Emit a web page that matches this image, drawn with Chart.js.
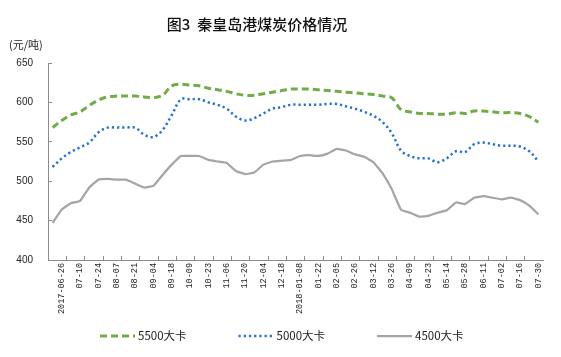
<!DOCTYPE html>
<html>
<head>
<meta charset="utf-8">
<script src="https://cdn.jsdelivr.net/npm/chart.js@4/dist/chart.umd.min.js"></script>
<style>
html,body{margin:0;padding:0;background:#fff;}
#wrap{width:561px;height:357px;}
</style>
</head>
<body>
<div id="wrap"><canvas id="c" width="561" height="357"></canvas></div>
<script>
const titleText = "图3  秦皇岛港煤炭价格情况";
const unitText = "(元/吨)";
const categories = [
  "2017-06-19","2017-06-26","07-03","07-10","07-17","07-24","07-31","08-07","08-14","08-21",
  "08-28","09-04","09-11","09-18","09-25","10-09","10-16","10-23","10-30","11-06",
  "11-13","11-20","11-27","12-04","12-11","12-18","12-25","2018-01-08","01-15","01-22",
  "01-29","02-05","02-12","02-26","03-05","03-12","03-19","03-26","04-02","04-09",
  "04-16","04-23","05-07","05-14","05-21","05-28","06-04","06-11","06-25","07-02",
  "07-09","07-16","07-23","07-30"
];
const seriesNames = ["5500大卡","5000大卡","4500大卡"];
const kcal5500 = [568,577,584,588,596,603,607,608,608,608,
  607,606,609,621,623,622,621,618,616,614,
  611,609,609,611,613,615,617,617,617,616,
  615,614,613,612,611,610,608,606,591,588,
  586,586,585,585,587,586,589,589,588,587,
  587,586,582,575];
const kcal5000 = [518,529,537,543,549,562,568,568,568,568,
  559,556,565,584,604,604,604,600,597,592,
  582,577,580,586,592,594,597,597,597,597,
  598,598,595,592,588,583,575,561,539,532,
  529,529,524,529,538,537,547,549,547,545,
  545,544,538,525];
const kcal4500 = [447,464,472,475,492,502,503,502,502,497,
  492,494,508,521,532,532,532,527,525,523,
  513,509,511,521,525,526,527,532,533,532,
  535,541,539,534,531,524,510,490,464,460,
  455,456,460,463,473,471,479,481,479,477,
  479,476,469,458];
const yTicks = [400,450,500,550,600,650];

const axisColor = '#8c8c8c';
const textColor = '#222';

const textPlugin = {
  id: 'texts',
  afterDraw(chart) {
    const ctx = chart.ctx;
    ctx.save();
    ctx.fillStyle = '#111';
    ctx.textBaseline = 'middle';
    ctx.textAlign = 'center';
    ctx.font = '500 15px "Noto Sans CJK SC"';
    ctx.fillText(titleText, 257, 24);
    ctx.textAlign = 'left';
    ctx.font = '11px "Noto Sans CJK SC"';
    ctx.fillStyle = textColor;
    ctx.fillText(unitText, 9, 45);

    // legend built from the datasets
    const legendY = 336, lineW = 35, textGap = 3, itemGap = 52;
    let x = 100;
    ctx.font = '11.5px "Noto Sans CJK SC"';
    chart.data.datasets.forEach(ds => {
      ctx.save();
      ctx.strokeStyle = ds.borderColor;
      ctx.lineWidth = ds.borderWidth;
      ctx.setLineDash(ds.borderDash || []);
      ctx.beginPath();
      ctx.moveTo(x, legendY);
      ctx.lineTo(x + lineW, legendY);
      ctx.stroke();
      ctx.restore();
      ctx.fillStyle = textColor;
      ctx.textAlign = 'left';
      ctx.textBaseline = 'middle';
      const tx = x + lineW + textGap;
      ctx.fillText(ds.label, tx, legendY);
      x = tx + ctx.measureText(ds.label).width + itemGap;
    });
    ctx.restore();
  }
};

new Chart(document.getElementById('c'), {
  type: 'line',
  data: {
    labels: categories,
    datasets: [
      {label: seriesNames[0], data: kcal5500, borderColor: '#70AD47', backgroundColor: '#70AD47',
       borderWidth: 3, borderDash: [7,4], pointRadius: 0, tension: 0.35, fill: false},
      {label: seriesNames[1], data: kcal5000, borderColor: '#2270D2', backgroundColor: '#2270D2',
       borderWidth: 2.5, borderDash: [2.2,3], pointRadius: 0, tension: 0.35, fill: false},
      {label: seriesNames[2], data: kcal4500, borderColor: '#A5A5A5', backgroundColor: '#A5A5A5',
       borderWidth: 2.25, pointRadius: 0, tension: 0.1, fill: false}
    ]
  },
  options: {
    responsive: false,
    animation: false,
    devicePixelRatio: 1,
    layout: {padding: {top: 63, left: 8, right: 18, bottom: 37}},
    plugins: {
      title: {display: false},
      tooltip: {enabled: false},
      legend: {display: false}
    },
    scales: {
      x: {
        type: 'category',
        offset: true,
        grid: {
          display: true,
          offset: true,
          drawOnChartArea: false,
          drawTicks: true,
          tickLength: -4,
          color: (c) => (c.index % 2 === 0 ? axisColor : 'rgba(0,0,0,0)'),
          lineWidth: 1
        },
        border: {display: true, color: axisColor, width: 1},
        ticks: {
          autoSkip: false,
          minRotation: 90,
          maxRotation: 90,
          padding: 7,
          color: textColor,
          font: {family: '"Liberation Mono"', size: 8.5},
          callback: function(v, i) { return i % 2 === 1 ? this.getLabelForValue(v) : ''; }
        },
        afterFit: (s) => { s.height = 60; }
      },
      y: {
        min: 400,
        max: 650,
        afterBuildTicks: (s) => { s.ticks = yTicks.map(v => ({value: v})); },
        grid: {
          display: true,
          drawOnChartArea: false,
          drawTicks: true,
          tickLength: -4,
          color: axisColor
        },
        border: {display: true, color: axisColor, width: 1},
        ticks: {
          padding: 19,
          color: textColor,
          font: {family: '"Liberation Sans"', size: 10}
        },
        afterFit: (s) => { s.width = 40; }
      }
    }
  },
  plugins: [textPlugin]
});
</script>
</body>
</html>
